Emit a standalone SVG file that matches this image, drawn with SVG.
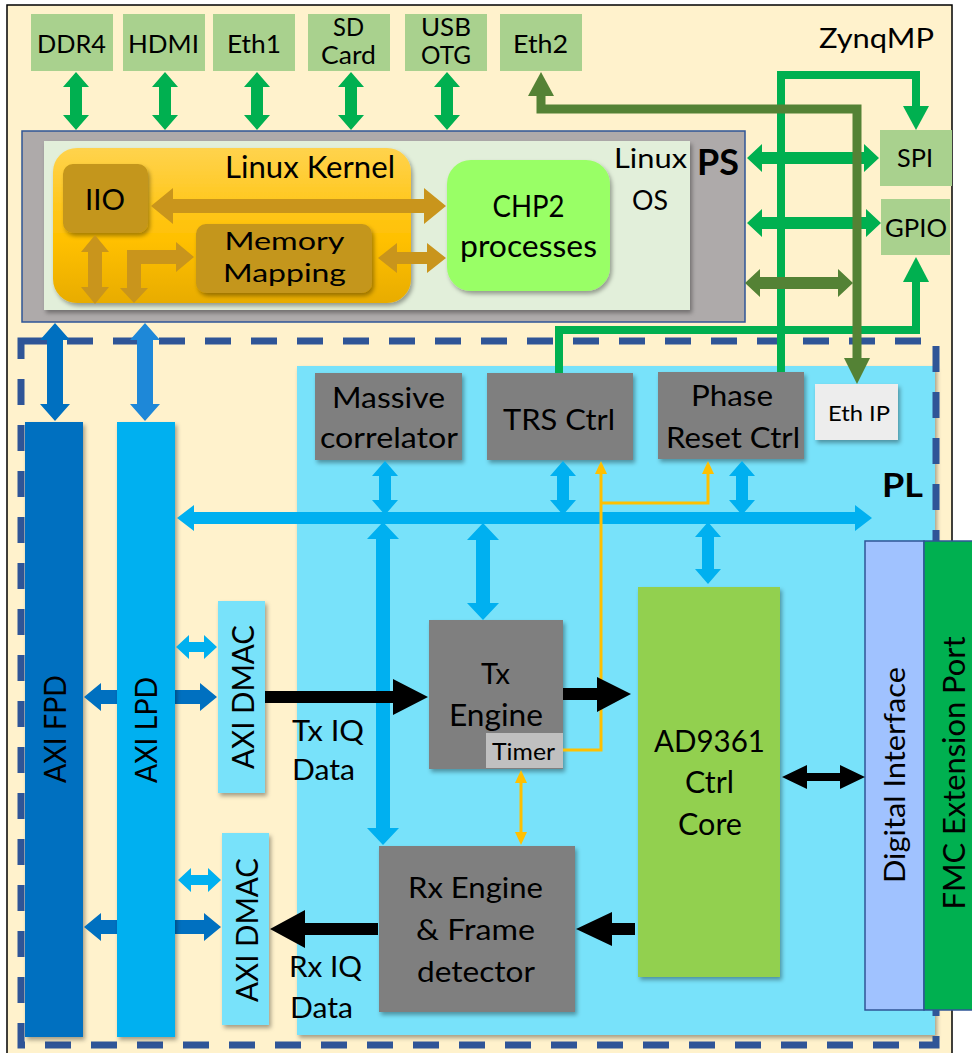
<svg xmlns="http://www.w3.org/2000/svg" xmlns:xlink="http://www.w3.org/1999/xlink" width="972" height="1053" viewBox="0 0 972 1053">
<defs>
<style>
text{font-family:Lato,"Liberation Sans",sans-serif;fill:#000;}
.c{text-anchor:middle;}
.b{font-weight:bold;}
.top{font-size:25px;}
.blk{fill:#7F7F7F;}
.gbox{fill:#A9D18E;}
.ga{fill:#00B050;}
.dga{fill:#548235;}
.oa{fill:#C9951C;}
.ba{fill:#00B0F0;}
.db{fill:#0070C0;}
.k{fill:#000;}
.yl{fill:none;stroke:#FFC000;stroke-width:3;}
.yh{fill:#FFC000;}
.gl{fill:none;stroke:#00B050;stroke-width:8;}
.dgl{fill:none;stroke:#548235;stroke-width:9;}
</style>
<filter id="sh" x="-10%" y="-10%" width="130%" height="130%">
<feDropShadow dx="2" dy="3" stdDeviation="2" flood-color="#000" flood-opacity="0.35"/>
</filter>
<linearGradient id="lk" x1="0" y1="0" x2="0" y2="1">
<stop offset="0" stop-color="#FFD34D"/>
<stop offset="0.6" stop-color="#FFC000"/>
<stop offset="1" stop-color="#E8AC00"/>
</linearGradient>
<polygon id="gv" points="0,72 13,87 6,87 6,115 13,115 0,130 -13,115 -6,115 -6,87 -13,87"/>
<polygon id="bv" points="0,461 13,476 6,476 6,500 13,500 0,515 -13,500 -6,500 -6,476 -13,476"/>
</defs>

<!-- outer ZynqMP frame -->
<rect x="7" y="5" width="945" height="1060" fill="#FFF2CC" stroke="#000" stroke-width="1.5"/>
<text x="819" y="48" style="font-size:27px" textLength="115" lengthAdjust="spacingAndGlyphs">ZynqMP</text>

<!-- PL region -->
<rect x="297" y="366" width="638" height="669" fill="#78E2FA" filter="url(#sh)"/>
<rect x="21" y="341" width="915" height="704" fill="none" stroke="#2F5597" stroke-width="7" stroke-dasharray="26 20"/>

<!-- top peripheral boxes -->
<g id="ddr4"><rect class="gbox" x="31" y="14" width="82" height="57"/><text class="c top" x="71.5" y="53" textLength="69" lengthAdjust="spacingAndGlyphs">DDR4</text></g>
<g id="hdmi"><rect class="gbox" x="123" y="14" width="82" height="57"/><text class="c top" x="163.5" y="53" textLength="71" lengthAdjust="spacingAndGlyphs">HDMI</text></g>
<g id="eth1"><rect class="gbox" x="213" y="14" width="82" height="57"/><text class="c top" x="254" y="53" textLength="54" lengthAdjust="spacingAndGlyphs">Eth1</text></g>
<g id="sdcard"><rect class="gbox" x="308" y="14" width="82" height="57"/><text class="c top" x="348.5" y="36" textLength="31" lengthAdjust="spacingAndGlyphs">SD</text><text class="c top" x="348.5" y="64" textLength="55" lengthAdjust="spacingAndGlyphs">Card</text></g>
<g id="usbotg"><rect class="gbox" x="405" y="14" width="82" height="57"/><text class="c top" x="446" y="36" textLength="50" lengthAdjust="spacingAndGlyphs">USB</text><text class="c top" x="446" y="64" textLength="50" lengthAdjust="spacingAndGlyphs">OTG</text></g>
<g id="eth2"><rect class="gbox" x="500" y="14" width="82" height="57"/><text class="c top" x="540.5" y="53" textLength="55" lengthAdjust="spacingAndGlyphs">Eth2</text></g>
<g id="spi"><rect class="gbox" x="880" y="130" width="72" height="56"/><text class="c top" x="915" y="167" textLength="36" lengthAdjust="spacingAndGlyphs">SPI</text></g>
<g id="gpio"><rect class="gbox" x="881" y="199" width="69" height="56"/><text class="c top" x="916" y="237" textLength="62" lengthAdjust="spacingAndGlyphs">GPIO</text></g>

<!-- PS block -->
<g id="ps">
<rect x="22" y="131" width="723" height="191" fill="#AEAAAA" stroke="#2F5597" stroke-width="1.5"/>
<rect x="44" y="141" width="646" height="169" fill="#E2EFDA" filter="url(#sh)"/>
<text class="b" x="697" y="175" style="font-size:36px" textLength="42" lengthAdjust="spacingAndGlyphs">PS</text>
<text class="c" x="650.5" y="168" style="font-size:27px" textLength="73" lengthAdjust="spacingAndGlyphs">Linux</text>
<text class="c" x="650" y="210" style="font-size:27px" textLength="36" lengthAdjust="spacingAndGlyphs">OS</text>
</g>
<g id="linux-kernel">
<rect x="53" y="148" width="358" height="155" rx="24" fill="url(#lk)" filter="url(#sh)"/>
<text x="225" y="178" style="font-size:30px" textLength="170" lengthAdjust="spacingAndGlyphs">Linux Kernel</text>
</g>
<g id="iio"><rect x="63" y="164" width="85" height="69" rx="10" fill="#C4961A" filter="url(#sh)"/><text class="c" x="105" y="210" style="font-size:28px" textLength="40" lengthAdjust="spacingAndGlyphs">IIO</text></g>
<g id="memory-mapping"><rect x="196" y="224" width="176" height="69" rx="10" fill="#C4961A" filter="url(#sh)"/><text class="c" x="284.5" y="250" style="font-size:25px" textLength="120" lengthAdjust="spacingAndGlyphs">Memory</text><text class="c" x="284.5" y="282" style="font-size:25px" textLength="123" lengthAdjust="spacingAndGlyphs">Mapping</text></g>
<g id="chp2"><rect x="447" y="160" width="163" height="131" rx="24" fill="#99FF66" filter="url(#sh)"/><text class="c" x="528.5" y="217" style="font-size:30px" textLength="72" lengthAdjust="spacingAndGlyphs">CHP2</text><text class="c" x="528.5" y="257" style="font-size:30px" textLength="137" lengthAdjust="spacingAndGlyphs">processes</text></g>

<!-- PL blocks -->
<g id="pl-label"><text class="b" x="882" y="497" style="font-size:33px" textLength="41" lengthAdjust="spacingAndGlyphs">PL</text></g>
<g id="axi-fpd"><rect x="25" y="422" width="58" height="615" fill="#0070C0" filter="url(#sh)"/><text class="c" transform="translate(66,729) rotate(-90)" style="font-size:30px" textLength="108" lengthAdjust="spacingAndGlyphs">AXI FPD</text></g>

<g id="connectors-under">
<polygon class="db" points="84,697 101,683 101,690 200,690 200,683 217,697 200,711 200,704 101,704 101,711"/>
<polygon class="db" points="84,927 101,913 101,920 204,920 204,913 221,927 204,941 204,934 101,934 101,941"/>
</g>

<g id="axi-lpd"><rect x="117" y="422" width="58" height="615" fill="#00B0F0" filter="url(#sh)"/><text class="c" transform="translate(157,730) rotate(-90)" style="font-size:30px" textLength="106" lengthAdjust="spacingAndGlyphs">AXI LPD</text></g>
<g id="axi-dmac-tx"><rect x="218" y="601" width="47" height="192" fill="#78E2FA" filter="url(#sh)"/><text class="c" transform="translate(254,697) rotate(-90)" style="font-size:30px" textLength="144" lengthAdjust="spacingAndGlyphs">AXI DMAC</text></g>
<g id="axi-dmac-rx"><rect x="222" y="833" width="47" height="192" fill="#78E2FA" filter="url(#sh)"/><text class="c" transform="translate(258,930) rotate(-90)" style="font-size:30px" textLength="144" lengthAdjust="spacingAndGlyphs">AXI DMAC</text></g>

<g id="massive-correlator"><rect class="blk" x="315" y="373" width="147" height="87" filter="url(#sh)"/><text class="c" x="388.5" y="408" style="font-size:28px" textLength="113" lengthAdjust="spacingAndGlyphs">Massive</text><text class="c" x="389" y="448" style="font-size:28px" textLength="138" lengthAdjust="spacingAndGlyphs">correlator</text></g>
<g id="trs-ctrl"><rect class="blk" x="487" y="373" width="146" height="87" filter="url(#sh)"/><text class="c" x="559" y="430" style="font-size:29px" textLength="112" lengthAdjust="spacingAndGlyphs">TRS Ctrl</text></g>
<g id="phase-reset-ctrl"><rect class="blk" x="658" y="372" width="146" height="87" filter="url(#sh)"/><text class="c" x="732" y="406" style="font-size:28px" textLength="82" lengthAdjust="spacingAndGlyphs">Phase</text><text class="c" x="733" y="448" style="font-size:28px" textLength="134" lengthAdjust="spacingAndGlyphs">Reset Ctrl</text></g>
<g id="eth-ip"><rect x="815" y="384" width="83" height="56" fill="#EDEDED" filter="url(#sh)"/><text class="c" x="859" y="421" style="font-size:22px" textLength="62" lengthAdjust="spacingAndGlyphs">Eth IP</text></g>

<g id="tx-engine"><rect class="blk" x="429" y="620" width="134" height="149" filter="url(#sh)"/><text class="c" x="495.5" y="684" style="font-size:29px" textLength="29" lengthAdjust="spacingAndGlyphs">Tx</text><text class="c" x="496" y="726" style="font-size:30px" textLength="94" lengthAdjust="spacingAndGlyphs">Engine</text></g>
<g id="timer"><rect x="486" y="733" width="77" height="35" fill="#C0C0C0"/><text class="c" x="523.5" y="760" style="font-size:23px" textLength="63" lengthAdjust="spacingAndGlyphs">Timer</text></g>
<g id="rx-engine"><rect class="blk" x="379" y="846" width="196" height="166" filter="url(#sh)"/><text class="c" x="475.5" y="898" style="font-size:28px" textLength="135" lengthAdjust="spacingAndGlyphs">Rx Engine</text><text class="c" x="475.5" y="940" style="font-size:28px" textLength="119" lengthAdjust="spacingAndGlyphs">&amp; Frame</text><text class="c" x="476" y="982" style="font-size:28px" textLength="118" lengthAdjust="spacingAndGlyphs">detector</text></g>
<g id="ad9361"><rect x="638" y="587" width="142" height="390" fill="#92D050" filter="url(#sh)"/><text class="c" x="709.5" y="752" style="font-size:30px" textLength="111" lengthAdjust="spacingAndGlyphs">AD9361</text><text class="c" x="709.5" y="793" style="font-size:30px" textLength="49" lengthAdjust="spacingAndGlyphs">Ctrl</text><text class="c" x="710" y="835" style="font-size:30px" textLength="64" lengthAdjust="spacingAndGlyphs">Core</text></g>
<g id="digital-interface"><rect x="865" y="541" width="59" height="469" fill="#A0C2FF" stroke="#2F5597" stroke-width="1.5"/><text class="c" transform="translate(905,775) rotate(-90)" style="font-size:29px" textLength="216" lengthAdjust="spacingAndGlyphs">Digital Interface</text></g>
<g id="fmc"><rect x="924" y="541" width="52" height="469" fill="#00B050" stroke="#2F5597" stroke-width="1.5"/><text class="c" transform="translate(965,773) rotate(-90)" style="font-size:30px" textLength="273" lengthAdjust="spacingAndGlyphs">FMC Extension Port</text></g>

<!-- connectors -->
<g id="connectors">
<use href="#gv" class="ga" x="76"/>
<use href="#gv" class="ga" x="165"/>
<use href="#gv" class="ga" x="257"/>
<use href="#gv" class="ga" x="351"/>
<use href="#gv" class="ga" x="447"/>

<polygon class="ga" points="747,158 762,144 762,152 864,152 864,144 879,158 864,172 864,164 762,164 762,172"/>
<polygon class="ga" points="747,223 762,209 762,217 866,217 866,209 881,223 866,237 866,229 762,229 762,237"/>
<path class="gl" d="M559,373 V330 H916 V280"/>
<polygon class="ga" points="916,257 929,282 903,282"/>
<path class="gl" d="M781,372 V75 H916 V108"/>
<polygon class="ga" points="916,130 929,106 903,106"/>

<polygon class="dga" points="745,283 760,269 760,277 838,277 838,269 853,283 838,297 838,289 760,289 760,297"/>
<path class="dgl" d="M541,94 V109 H857 V360"/>
<polygon class="dga" points="541,72 554,96 528,96"/>
<polygon class="dga" points="857,384 870,358 844,358"/>

<polygon class="oa" points="151,206 173,188 173,199 424,199 424,188 446,206 424,224 424,213 173,213 173,224"/>
<polygon class="oa" points="378,258 397,243 397,252 427,252 427,243 446,258 427,273 427,264 397,264 397,273"/>
<polygon class="oa" points="95,235 109,252 102,252 102,287 109,287 95,304 81,287 88,287 88,252 81,252"/>
<polygon class="oa" points="134,303 120,288 127,288 127,250 176,250 176,242 194,257 176,272 176,264 141,264 141,288 148,288"/>

<polygon class="db" points="55,323 70,340 63,340 63,404 70,404 55,421 40,404 47,404 47,340 40,340"/>
<polygon fill="#1E88D8" points="145,323 160,340 153,340 153,404 160,404 145,421 130,404 137,404 137,340 130,340"/>

<polygon class="ba" points="177,518 194,505 194,512 855,512 855,505 872,518 855,531 855,524 194,524 194,531"/>
<use href="#bv" class="ba" x="385"/>
<use href="#bv" class="ba" x="563"/>
<use href="#bv" class="ba" x="742"/>
<polygon class="ba" points="383,522 399,539 390,539 390,828 399,828 383,845 367,828 376,828 376,539 367,539"/>
<polygon class="ba" points="483,523 499,540 490,540 490,603 499,603 483,620 467,603 476,603 476,540 467,540"/>
<polygon class="ba" points="708,522 721,537 714,537 714,569 721,569 708,584 695,569 702,569 702,537 695,537"/>

<polygon class="ba" points="176,647 189,635 189,642 204,642 204,635 217,647 204,659 204,652 189,652 189,659"/>
<polygon class="ba" points="178,880 191,868 191,875 208,875 208,868 221,880 208,892 208,885 191,885 191,892"/>

<path class="yl" d="M563,750 H601 V472"/>
<polygon class="yh" points="601,461 607,474 595,474"/>
<path class="yl" d="M601,503 H708 V472"/>
<polygon class="yh" points="708,461 714,474 702,474"/>
<path class="yl" d="M521,781 V834"/>
<polygon class="yh" points="521,770 527,783 515,783"/>
<polygon class="yh" points="521,845 527,832 515,832"/>

<polygon class="k" points="265,691 393,691 393,679 428,697 393,715 393,703 265,703"/>
<polygon class="k" points="563,688 597,688 597,677 631,694 597,712 597,700 563,700"/>
<polygon class="k" points="378,923 305,923 305,910 270,929 305,948 305,935 378,935"/>
<polygon class="k" points="635,923 612,923 612,912 576,929 612,946 612,935 635,935"/>
<polygon class="k" points="782,777 807,765 807,773 840,773 840,765 865,777 840,789 840,781 807,781 807,789"/>
</g>

<g id="labels">
<text x="292" y="741" style="font-size:28px" textLength="72" lengthAdjust="spacingAndGlyphs">Tx IQ</text>
<text x="292" y="780" style="font-size:28px" textLength="63" lengthAdjust="spacingAndGlyphs">Data</text>
<text x="289" y="977" style="font-size:28px" textLength="73" lengthAdjust="spacingAndGlyphs">Rx IQ</text>
<text x="290" y="1018" style="font-size:28px" textLength="63" lengthAdjust="spacingAndGlyphs">Data</text>
</g>
</svg>
